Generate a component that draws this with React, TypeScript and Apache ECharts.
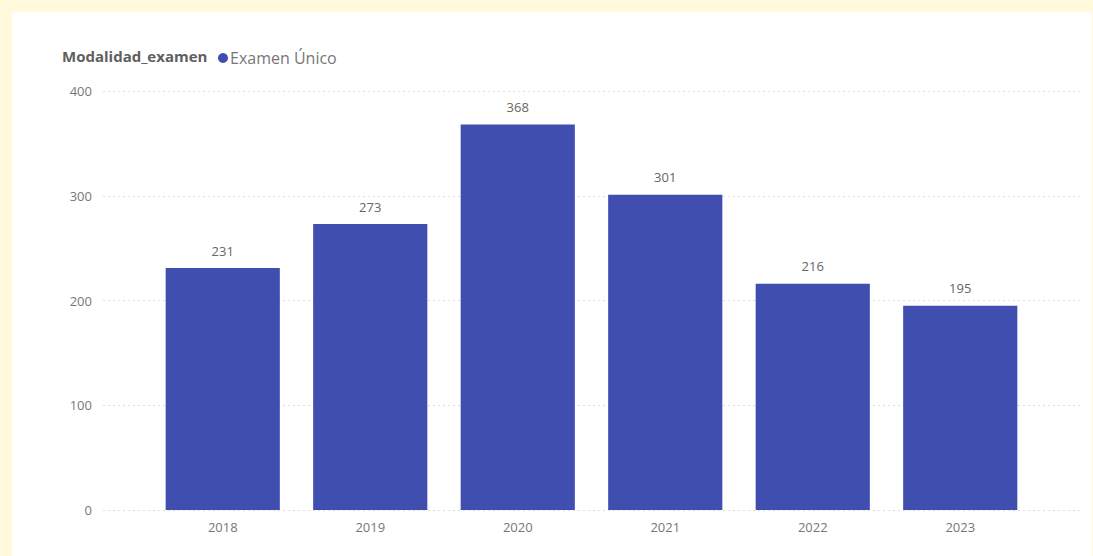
import React, { useEffect, useRef } from "react";
import * as echarts from "echarts";

const years = ["2018", "2019", "2020", "2021", "2022", "2023"];
const examenUnico = [231, 273, 368, 301, 216, 195];
const yTicks = [0, 100, 200, 300, 400];
const legendTitle = "Modalidad_examen";
const seriesName = "Examen Único";

const FONT = "'Open Sans', 'Noto Sans', sans-serif";

export default function App() {
  const ref = useRef<HTMLDivElement>(null);
  useEffect(() => {
    if (!ref.current) return;
    const chart = echarts.init(ref.current, undefined, { renderer: "svg" });
    chart.setOption({
      animation: false,
      textStyle: { fontFamily: FONT },
      title: {
        text: legendTitle,
        left: 50,
        top: 36,
        padding: 0,
        textStyle: { fontFamily: FONT, fontSize: 15, fontWeight: "bold", color: "#5f5f5f" },
      },
      legend: {
        left: 206,
        top: 38,
        padding: 0,
        icon: "circle",
        itemWidth: 10,
        itemHeight: 10,
        itemGap: 4,
        textStyle: { fontFamily: FONT, fontSize: 16, color: "#777", padding: [0, 0, 0, -3] },
        data: [seriesName],
      },
      grid: [
        { left: 91, right: 12, top: 79, bottom: 46 },
        { left: 137, right: 58, top: 79, bottom: 46 },
      ],
      xAxis: [
        { type: "value", gridIndex: 0, show: false, min: 0, max: 1 },
        {
          type: "category",
          gridIndex: 1,
          data: years,
          axisLine: { show: false },
          axisTick: { show: false },
          axisLabel: { color: "#777", fontSize: 13, fontFamily: FONT, margin: 10 },
        },
      ],
      yAxis: [
        {
          type: "value",
          gridIndex: 0,
          min: yTicks[0],
          max: yTicks[yTicks.length - 1],
          interval: 100,
          axisLine: { show: false },
          axisTick: { show: false },
          axisLabel: { color: "#777", fontSize: 13, fontFamily: FONT, margin: 11 },
          splitLine: { lineStyle: { color: "#dcdcdc", type: [2, 3], width: 1 } },
        },
        {
          type: "value",
          gridIndex: 1,
          min: yTicks[0],
          max: yTicks[yTicks.length - 1],
          show: false,
          splitLine: { show: false },
        },
      ],
      series: [
        {
          name: seriesName,
          type: "bar",
          xAxisIndex: 1,
          yAxisIndex: 1,
          data: examenUnico,
          barCategoryGap: "22.6%",
          itemStyle: { color: "#3F4EAF" },
          label: {
            show: true,
            position: "top",
            distance: 11,
            color: "#666",
            fontSize: 13,
            fontFamily: FONT,
          },
        },
      ],
    });
    return () => chart.dispose();
  }, []);

  return (
    <div style={{ position: "fixed", left: 0, top: 0, width: 1093, height: 556, background: "#FFFADB" }}>
      <div style={{ position: "absolute", left: 12, top: 12, width: 1080, height: 544, background: "#ffffff" }}>
        <div ref={ref} style={{ width: 1080, height: 544 }} />
      </div>
    </div>
  );
}
